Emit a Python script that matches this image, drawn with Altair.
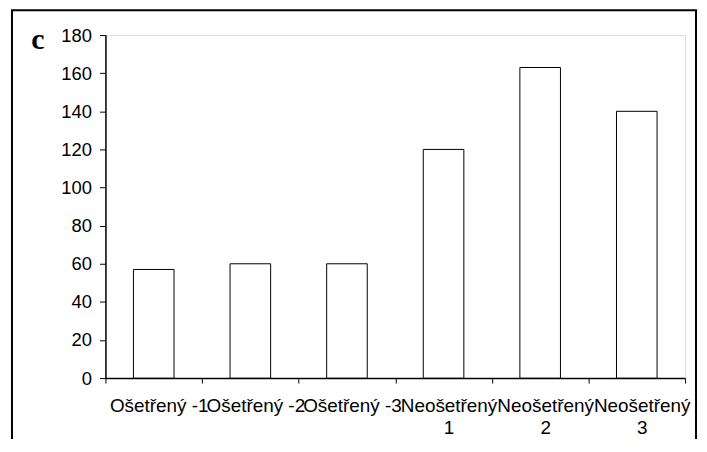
import altair as alt
import pandas as pd

categories = ["Ošetřený -1", "Ošetřený -2", "Ošetřený -3",
              "Neošetřený\n1", "Neošetřený\n2", "Neošetřený\n3"]
values = [57, 60, 60, 120, 163, 140]
y_ticks = [0, 20, 40, 60, 80, 100, 120, 140, 160, 180]
panel_label = "c"

df = pd.DataFrame({"cat": categories, "val": values})

FONT = "Liberation Sans"

bars = alt.Chart(df).mark_bar(fill="white", stroke="black", strokeWidth=1,
                              width=alt.RelativeBandSize(0.42)).encode(
    x=alt.X("cat:N", sort=categories, title=None,
            scale=alt.Scale(paddingInner=0, paddingOuter=0),
            axis=alt.Axis(labelAngle=0, labelExpr="split(datum.label, '\\n')",
                          labelOverlap=False, labelLimit=0, tickBand="extent",
                          labelFontSize=19, labelFont=FONT, labelColor="black",
                          labelOffset=5,
                          labelPadding=14, labelLineHeight=22, labelBaseline="top",
                          tickSize=5, tickColor="black", domainColor="black",
                          domainWidth=1.5, tickWidth=1)),
    y=alt.Y("val:Q", title=None,
            scale=alt.Scale(domain=[0, 180], nice=False),
            axis=alt.Axis(values=y_ticks, grid=False, labelFontSize=18.5, labelFont=FONT,
                          labelColor="black", labelPadding=8, tickSize=6,
                          tickColor="black", domainColor="black", domainWidth=1.5,
                          tickWidth=1)),
)

label = alt.Chart(pd.DataFrame({"t": [panel_label]})).mark_text(
    font="Liberation Serif", fontSize=30, fontWeight="bold", align="center",
    baseline="alphabetic", color="black").encode(
    text="t:N", x=alt.value(-68), y=alt.value(14))

frame = alt.Chart(pd.DataFrame({"t": [1]})).mark_rect(
    fillOpacity=0, stroke="black", strokeWidth=2).encode(
    x=alt.value(-94), x2=alt.value(594), y=alt.value(-25), y2=alt.value(600))

chart = alt.layer(bars, label, frame).properties(
    width=583, height=345,
    autosize=alt.AutoSizeParams(type="none"),
    padding={"left": 98, "top": 26, "right": 14, "bottom": 60},
).configure_view(stroke="#808080", strokeWidth=1).configure(background="white")

chart.save("out.html", embed_options={"renderer": "svg", "actions": False})
